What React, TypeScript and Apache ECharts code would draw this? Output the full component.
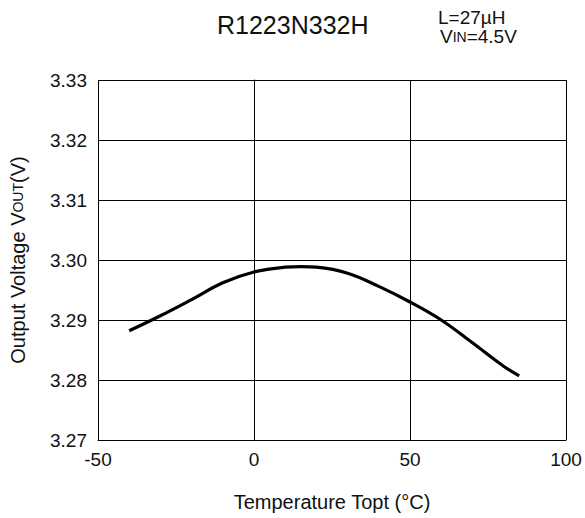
import React, { useEffect, useRef } from "react";
import * as echarts from "echarts";

const temps = [-40, -30, -20, -10, 0, 10, 15, 20, 30, 40, 50, 60, 70, 80, 85];
const vout = [3.2882, 3.2907, 3.2934, 3.2962, 3.298, 3.2988, 3.2989, 3.2988, 3.2978, 3.2956, 3.293, 3.29, 3.2862, 3.2823, 3.2807];
const title = "R1223N332H";
const condL = "L=27µH";
const condV = "V{s|IN}=4.5V";
const xName = "Temperature Topt (°C)";
const yName = "Output Voltage V{s|OUT}(V)";

export default function App() {
  const ref = useRef<HTMLDivElement>(null);
  useEffect(() => {
    if (!ref.current) return;
    const chart = echarts.init(ref.current, null, { renderer: "svg" });
    const font = "Liberation Sans, Arial, sans-serif";
    const ink = "#111";
    chart.setOption({
      animation: false,
      backgroundColor: "#fff",
      textStyle: { fontFamily: font },
      grid: { left: 96, right: 19, top: 80, bottom: 78 },
      graphic: [
        { type: "text", left: 217, top: 12, style: { text: title, fontSize: 25, fontFamily: font, fill: ink } },
        { type: "text", left: 438, top: 8, style: { text: condL, fontSize: 19, fontFamily: font, fill: ink } },
        {
          type: "text",
          left: 440,
          top: 27,
          style: {
            text: condV,
            fontSize: 19,
            fontFamily: font,
            fill: ink,
            rich: { s: { fontSize: 14, fontFamily: font, fill: ink } },
          },
        },
      ],
      xAxis: {
        type: "value",
        min: -50,
        max: 100,
        interval: 50,
        name: xName,
        nameLocation: "middle",
        nameGap: 52,
        nameTextStyle: { fontSize: 20, color: ink, fontFamily: font },
        axisLine: { onZero: false, lineStyle: { color: "#000", width: 1 } },
        axisTick: { show: false },
        axisLabel: { fontSize: 19, color: ink, margin: 10, fontFamily: font },
        splitLine: { lineStyle: { color: "#000", width: 1 } },
      },
      yAxis: {
        type: "value",
        min: 3.27,
        max: 3.33,
        interval: 0.01,
        name: yName,
        nameLocation: "middle",
        nameGap: 70,
        nameTextStyle: {
          fontSize: 20,
          color: ink,
          fontFamily: font,
          rich: { s: { fontSize: 14, color: ink, fontFamily: font } },
        },
        axisLine: { show: true, lineStyle: { color: "#000", width: 1 } },
        axisTick: { show: false },
        axisLabel: {
          fontSize: 19,
          color: ink,
          margin: 11,
          fontFamily: font,
          formatter: (v: number) => v.toFixed(2),
        },
        splitLine: { lineStyle: { color: "#000", width: 1 } },
      },
      series: [
        {
          type: "line",
          data: temps.map((t, i) => [t, vout[i]]),
          smooth: 0.4,
          showSymbol: false,
          lineStyle: { color: "#000", width: 3.2 },
        },
      ],
    });
    return () => chart.dispose();
  }, []);
  return <div ref={ref} style={{ width: 585, height: 518, position: "absolute", left: 0, top: 0 }} />;
}
